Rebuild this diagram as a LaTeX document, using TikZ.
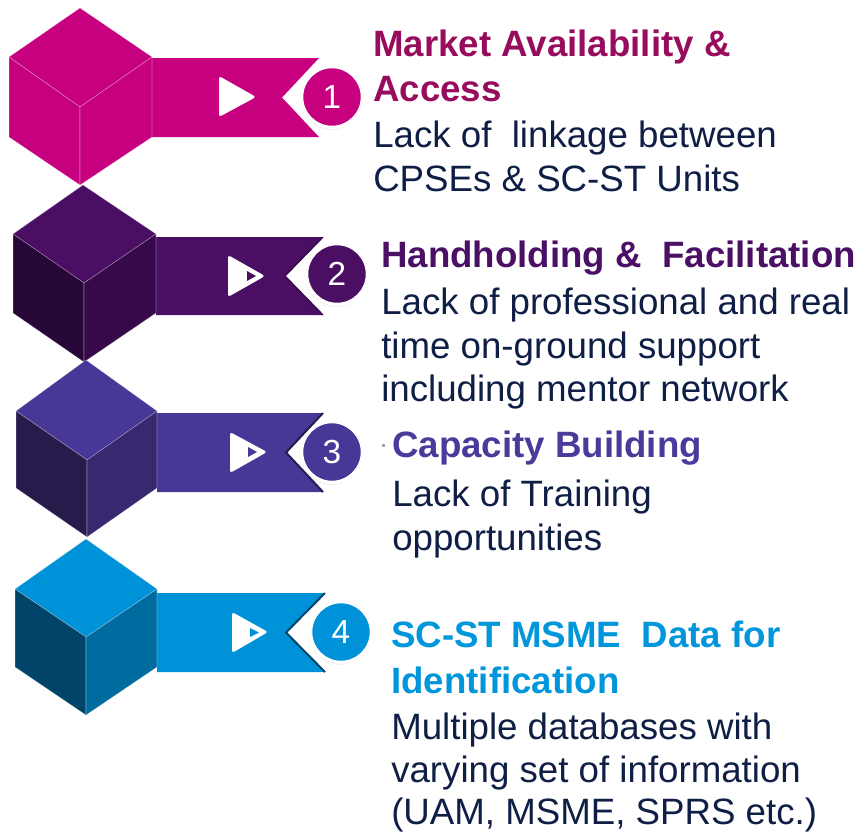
\documentclass[tikz,border=0pt]{standalone}
\usepackage{fontspec}
\setmainfont{Liberation Sans}
\usetikzlibrary{shadows}
\definecolor{magA}{HTML}{C6007E}
\definecolor{magT}{HTML}{980C5D}
\definecolor{purA}{HTML}{4A0E63}
\definecolor{purL}{HTML}{270638}
\definecolor{purR}{HTML}{37094B}
\definecolor{purT}{HTML}{4B0F66}
\definecolor{vioA}{HTML}{483797}
\definecolor{vioL}{HTML}{271B4B}
\definecolor{vioR}{HTML}{372870}
\definecolor{vioT}{HTML}{4B3A9B}
\definecolor{bluA}{HTML}{0092D8}
\definecolor{bluL}{HTML}{00446A}
\definecolor{bluR}{HTML}{006B9F}
\definecolor{bluT}{HTML}{0096DB}
\definecolor{bodyc}{HTML}{0F1E45}
\begin{document}
\begin{tikzpicture}[x=0.75pt,y=-0.75pt,
  edge/.style={draw=white, draw opacity=0.35, line width=0.4pt},
  numcirc/.style={circle, draw=white, line width=2.4pt, minimum size=45.5pt, inner sep=0pt,
    text=white, font=\fontsize{25}{25}\selectfont,
    circular drop shadow={shadow xshift=-0.8pt, shadow yshift=-1pt, shadow scale=1.05, opacity=0.35}},
  playtri/.style={fill=white, rounded corners=2pt},
  txt/.style={anchor=base west, inner sep=0pt, text=bodyc, font=\fontsize{27.5}{33}\selectfont},
  ttl/.style={anchor=base west, inner sep=0pt, font=\fontsize{27.5}{33}\selectfont\bfseries}]
\useasboundingbox (0,0) rectangle (863,833);
\fill[white] (0,0) rectangle (863,833);

% ---------- Row 1 ----------
\fill[magA] (152,58) -- (319,58) -- (282,97.5) -- (319,137) -- (152,137) -- cycle;
\filldraw[fill=magA, edge] (80,8) -- (152,57) -- (80,107) -- (9,57) -- cycle;
\filldraw[fill=magA, edge] (9,57) -- (80,107) -- (80,185) -- (9,137) -- cycle;
\filldraw[fill=magA, edge] (152,57) -- (80,107) -- (80,185) -- (152,137) -- cycle;
\fill[playtri] (219,76) -- (256,97) -- (219,117) -- cycle;
\node[numcirc, fill=magA] (c1) at (332,97) {1};

% ---------- Row 2 ----------
\fill[purA] (156,237) -- (323,237) -- (285,276) -- (323,315) -- (156,315) -- cycle;
\draw[purR, line width=1pt] (323,237) -- (285,276) -- (323,315);
\filldraw[fill=purA, edge] (83,185) -- (156,234) -- (84,283) -- (13,234) -- cycle;
\filldraw[fill=purL, edge] (13,234) -- (84,283) -- (84,362) -- (13,313) -- cycle;
\filldraw[fill=purR, edge] (156,234) -- (84,283) -- (84,362) -- (156,313) -- cycle;
\fill[playtri] (228,255) -- (265,276) -- (228,297) -- cycle;
\fill[purA] (247,271) -- (256,276) -- (247,281) -- cycle;
\node[numcirc, fill=purA] (c2) at (337,274) {2};

% ---------- Row 3 ----------
\fill[vioA] (157,413) -- (323,413) -- (286,452.5) -- (323,492) -- (157,492) -- cycle;
\draw[vioL, line width=1.5pt] (323,413) -- (286,452.5) -- (323,492);
\filldraw[fill=vioA, edge] (86,360) -- (157,411) -- (87,460) -- (16,411) -- cycle;
\filldraw[fill=vioL, edge] (16,411) -- (87,460) -- (87,537) -- (16,488) -- cycle;
\filldraw[fill=vioR, edge] (157,411) -- (87,460) -- (87,537) -- (157,488) -- cycle;
\fill[playtri] (230,432) -- (267,452) -- (230,473) -- cycle;
\fill[vioA] (248,447) -- (257,452) -- (248,457) -- cycle;
\node[numcirc, fill=vioA] (c3) at (332,452) {3};

% ---------- Row 4 ----------
\fill[bluA] (157,593) -- (325,593) -- (286,632.5) -- (325,672) -- (157,672) -- cycle;
\draw[bluL, line width=1.5pt] (325,593) -- (286,632.5) -- (325,672);
\filldraw[fill=bluA, edge] (86,539) -- (157,589) -- (86,637) -- (15,589) -- cycle;
\filldraw[fill=bluL, edge] (15,589) -- (86,637) -- (86,715) -- (15,667) -- cycle;
\filldraw[fill=bluR, edge] (157,589) -- (86,637) -- (86,715) -- (157,667) -- cycle;
\fill[playtri] (232,612) -- (268,632) -- (232,653) -- cycle;
\fill[bluA] (250,628) -- (259,632.5) -- (250,637) -- cycle;
\node[numcirc, fill=bluA] (c4) at (341,632) {4};

% ---------- Texts ----------
\node[ttl, text=magT] (t1a) at (373,56) {Market Availability \&};
\node[ttl, text=magT] (t1b) at (373,101) {Access};
\node[txt] (b1a) at (373,147) {Lack of\ \ linkage between};
\node[txt] (b1b) at (373,191) {CPSEs \& SC-ST Units};

\node[ttl, text=purT] (t2a) at (381,267) {Handholding \&\ \ Facilitation};
\node[txt] (b2a) at (381,314) {Lack of professional and real};
\node[txt] (b2b) at (381,358) {time on-ground support};
\node[txt] (b2c) at (381,401) {including mentor network};

\fill[gray!70] (381.5,443.5) rectangle (384.5,446.5);
\node[ttl, text=vioT] (t3a) at (392,457) {Capacity Building};
\node[txt] (b3a) at (392,506) {Lack of Training};
\node[txt] (b3b) at (392,550) {opportunities};

\node[ttl, text=bluT] (t4a) at (391,647) {SC-ST MSME\ \ Data for};
\node[ttl, text=bluT] (t4b) at (391,693) {Identification};
\node[txt] (b4a) at (391,739) {Multiple databases with};
\node[txt] (b4b) at (391,782) {varying set of information};
\node[txt] (b4c) at (391,824) {(UAM, MSME, SPRS etc.)};
\end{tikzpicture}
\end{document}
